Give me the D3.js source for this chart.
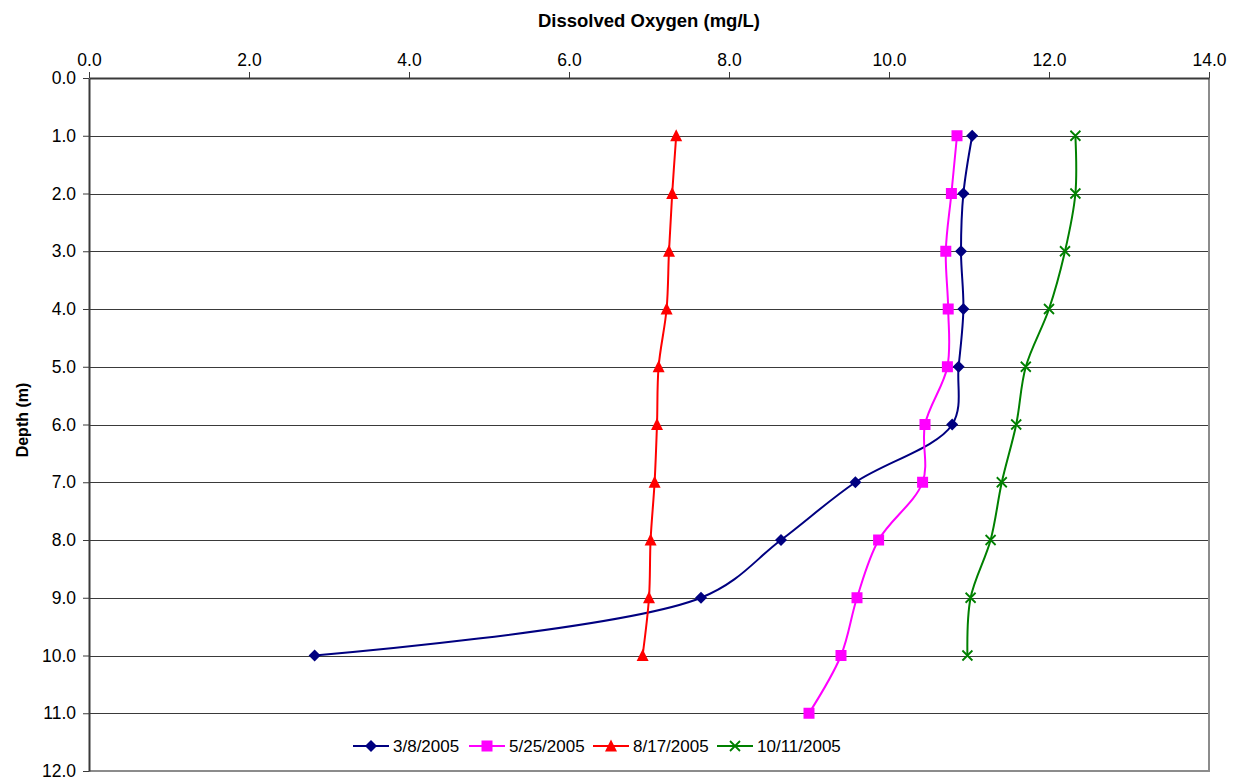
<!DOCTYPE html>
<html>
<head>
<meta charset="utf-8">
<script src="https://cdn.jsdelivr.net/npm/d3@7"></script>
<style>
  body { margin: 0; background: #fff; }
  svg { font-family: "Liberation Sans", Arial, sans-serif; }
</style>
</head>
<body>
<svg class="chart" width="1240" height="782"></svg>
<script>
// depth (m) for each reading
var depths = [1, 2, 3, 4, 5, 6, 7, 8, 9, 10, 11];

// dissolved oxygen readings (mg/L)
var do0308 = [11.04, 10.93, 10.90, 10.93, 10.87, 10.79, 9.58, 8.65, 7.65, 2.82];
var do0525 = [10.85, 10.78, 10.71, 10.74, 10.73, 10.45, 10.42, 9.87, 9.60, 9.40, 9.00];
var do0817 = [7.34, 7.29, 7.25, 7.22, 7.12, 7.10, 7.07, 7.02, 7.00, 6.92];
var do1011 = [12.33, 12.33, 12.20, 12.00, 11.71, 11.59, 11.41, 11.27, 11.02, 10.98];

var seriesNames = ["3/8/2005", "5/25/2005", "8/17/2005", "10/11/2005"];
var xTicks = [0, 2, 4, 6, 8, 10, 12, 14];
var yTicks = [0, 1, 2, 3, 4, 5, 6, 7, 8, 9, 10, 11, 12];

var svg = d3.select(".chart"),
    margin = {top: 78, right: 31, bottom: 11, left: 89},
    width = +svg.attr("width") - margin.left - margin.right,
    height = +svg.attr("height") - margin.top - margin.bottom,
    g = svg.append("g").attr("transform", "translate(" + margin.left + "," + margin.top + ")");

var x = d3.scaleLinear().domain([0, 14]).range([0, width]);
var y = d3.scaleLinear().domain([0, 12]).range([0, height]);

var series = [
  {name: seriesNames[0], values: do0308, color: "#000080", marker: "diamond"},
  {name: seriesNames[1], values: do0525, color: "#FF00FF", marker: "square"},
  {name: seriesNames[2], values: do0817, color: "#FF0000", marker: "triangle"},
  {name: seriesNames[3], values: do1011, color: "#008000", marker: "x"}
];

// horizontal gridlines
g.append("g")
  .selectAll("line")
  .data(yTicks.slice(1, -1))
  .enter().append("line")
  .attr("x1", 0).attr("x2", width)
  .attr("y1", function(d) { return Math.round(y(d)) + 0.5; })
  .attr("y2", function(d) { return Math.round(y(d)) + 0.5; })
  .attr("stroke", "#3a3a3a")
  .attr("stroke-width", 1);

// right and bottom plot border
g.append("path")
  .attr("d", "M" + width + ",0V" + height + "H0")
  .attr("fill", "none")
  .attr("stroke", "#8c8c8c")
  .attr("stroke-width", 2);

// top axis
var xAxis = g.append("g")
  .call(d3.axisTop(x).tickValues(xTicks).tickFormat(d3.format(".1f")).tickSize(6).tickSizeOuter(0));
xAxis.select(".domain").attr("stroke", "#3a3a3a").attr("stroke-width", 2);
xAxis.selectAll(".tick line").attr("stroke", "#3a3a3a");
xAxis.selectAll("text").attr("font-size", 17.5).attr("fill", "#000")
  .attr("font-family", "Liberation Sans, Arial, sans-serif").attr("dy", "-0.2em");

// left axis
var yAxis = g.append("g")
  .call(d3.axisLeft(y).tickValues(yTicks).tickFormat(d3.format(".1f")).tickSize(6).tickSizeOuter(0));
yAxis.select(".domain").attr("stroke", "#3a3a3a").attr("stroke-width", 2);
yAxis.selectAll(".tick line").attr("stroke", "#3a3a3a");
yAxis.selectAll("text").attr("font-size", 17.5).attr("fill", "#000")
  .attr("font-family", "Liberation Sans, Arial, sans-serif").attr("x", -13);

// axis titles
svg.append("text")
  .attr("x", margin.left + width / 2)
  .attr("y", 27)
  .attr("text-anchor", "middle")
  .attr("font-size", 18.5)
  .attr("font-weight", "bold")
  .text("Dissolved Oxygen (mg/L)");

svg.append("text")
  .attr("transform", "translate(28,420) rotate(-90)")
  .attr("text-anchor", "middle")
  .attr("font-size", 16)
  .attr("font-weight", "bold")
  .text("Depth (m)");

var line = d3.line()
  .x(function(d) { return x(d.v); })
  .y(function(d) { return y(d.depth); })
  .curve(d3.curveCatmullRom.alpha(0.5));

function drawMarker(sel, type, color) {
  if (type === "diamond") {
    sel.append("path").attr("d", "M0,-6L6,0L0,6L-6,0Z").attr("fill", color);
  } else if (type === "square") {
    sel.append("rect").attr("x", -5.5).attr("y", -5.5).attr("width", 11).attr("height", 11).attr("fill", color);
  } else if (type === "triangle") {
    sel.append("path").attr("d", "M0,-6.5L6,5.5L-6,5.5Z").attr("fill", color);
  } else {
    sel.append("path").attr("d", "M-5,-5L5,5M-5,5L5,-5").attr("stroke", color).attr("stroke-width", 1.8).attr("fill", "none");
  }
}

series.forEach(function(s) {
  var pts = s.values.map(function(v, i) { return {depth: depths[i], v: v}; });
  g.append("path")
    .datum(pts)
    .attr("fill", "none")
    .attr("stroke", s.color)
    .attr("stroke-width", 2)
    .attr("stroke-linejoin", "round")
    .attr("d", line);

  g.append("g").selectAll("g")
    .data(pts)
    .enter().append("g")
    .attr("transform", function(d) { return "translate(" + x(d.v) + "," + y(d.depth) + ")"; })
    .each(function() { drawMarker(d3.select(this), s.marker, s.color); });
});

// legend
var legendX = [353, 469, 593, 717];
var legend = svg.append("g").attr("transform", "translate(0,746)");
series.forEach(function(s, i) {
  var item = legend.append("g").attr("transform", "translate(" + legendX[i] + ",0)");
  item.append("line").attr("x1", 0).attr("x2", 36).attr("y1", 0).attr("y2", 0)
    .attr("stroke", s.color).attr("stroke-width", 2);
  var m = item.append("g").attr("transform", "translate(18,0)");
  drawMarker(m, s.marker, s.color);
  item.append("text").attr("x", 40).attr("y", 6).attr("font-size", 17).text(s.name);
});
</script>
</body>
</html>
